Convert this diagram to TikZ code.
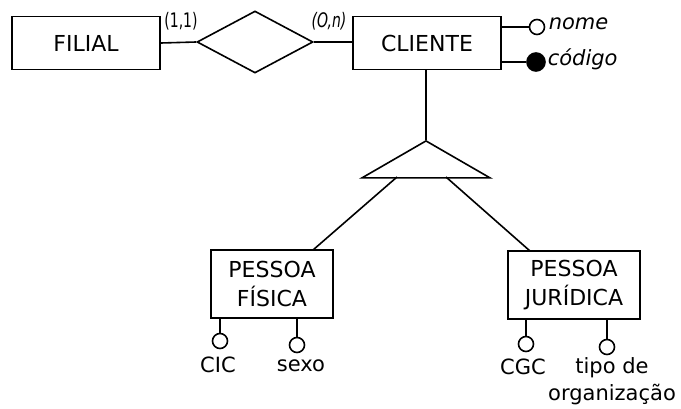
\documentclass[tikz,border=0pt]{standalone}
\usepackage{fontspec}
\setmainfont{DejaVu Sans}
\usetikzlibrary{shapes.geometric}
\begin{document}
\begin{tikzpicture}[x=1pt,y=-1pt,line width=1.6pt,
  ent/.style={draw,rectangle,minimum width=148pt,minimum height=53pt,font=\fontsize{22}{29}\selectfont,align=center},
  ent2/.style={draw,rectangle,minimum width=122pt,minimum height=68pt,inner sep=0pt,font=\fontsize{22}{29}\selectfont,align=center},
  rel/.style={draw,diamond,minimum width=116pt,minimum height=62pt,inner sep=0pt},
  att/.style={draw,circle,minimum size=15pt,inner sep=0pt,fill=white},
  attk/.style={draw,circle,minimum size=18pt,inner sep=0pt,fill=black},
  lbl/.style={font=\fontsize{21}{27}\selectfont},
  card/.style={font=\fontsize{20}{22}\selectfont,xscale=0.7,transform shape,inner sep=0pt}]
\useasboundingbox (0,0) rectangle (681,409);
\node[ent] (filial) at (86,43) {FILIAL};
\node[rel] (rel) at (255,42) {};
\node[ent] (cliente) at (427,43) {CLIENTE};
\draw (filial.east) -- (rel.west);
\draw (rel.east) -- (rel.east-|cliente.west);
\node[card] at (181,21) {(1,1)};
\node[card] at (329,21) {\itshape(O,n)};
\node[att] (nome) at (537,27) {};
\node[attk] (cod) at (536,62) {};
\draw (cliente.north east|-nome) -- (nome.west);
\draw (cliente.north east|-cod) -- (cod.west);
\node[lbl,anchor=west,inner sep=0pt] at (548,24) {\itshape nome};
\node[lbl,anchor=west,inner sep=0pt] at (547,59) {\itshape código};
\node[draw,isosceles triangle,isosceles triangle apex angle=120,shape border rotate=90,minimum height=37pt,inner sep=0pt,anchor=apex] (tri) at (426,140) {};
\draw (cliente.south-|tri.apex) -- (tri.apex);
\node[ent2] (pf) at (272,284) {PESSOA\\FÍSICA};
\node[ent2,minimum width=132pt] (pj) at (574,285) {PESSOA\\JURÍDICA};
\coordinate (tl) at (397,177);
\coordinate (tr) at (446,177);
\coordinate (pfin) at (313,250);
\coordinate (pjin) at (530,251);
\draw (tl) -- (pfin);
\draw (tr) -- (pjin);
\node[att] (cic) at (220,341) {};
\node[att] (sexo) at (297,345) {};
\node[att] (cgc) at (526,344) {};
\node[att] (tipo) at (607,347) {};
\draw (cic.north|-pf.south) -- (cic.north);
\draw (sexo.north|-pf.south) -- (sexo.north);
\draw (cgc.north|-pj.south) -- (cgc.north);
\draw (tipo.north|-pj.south) -- (tipo.north);
\node[lbl] at (218,365) {CIC};
\node[lbl] at (301,366) {sexo};
\node[lbl] at (523,367) {CGC};
\node[lbl,align=center] at (612,381) {tipo de\\organização};
\end{tikzpicture}
\end{document}
